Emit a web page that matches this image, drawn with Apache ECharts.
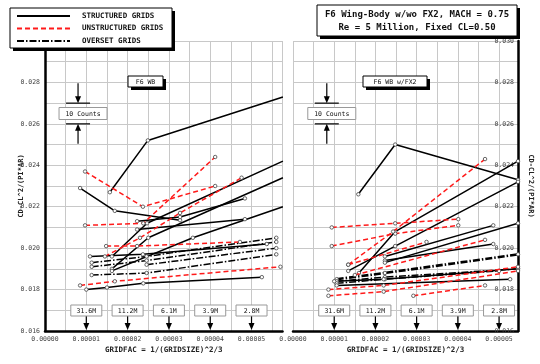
<!DOCTYPE html>
<html>
<head>
<meta charset="utf-8">
<script src="https://cdn.jsdelivr.net/npm/echarts@6/dist/echarts.min.js"></script>
<style>
  html, body { margin: 0; padding: 0; background: #fff; }
  #chart { width: 540px; height: 364px; }
</style>
</head>
<body>
<div id="chart"></div>
<script>
// gridfac (x) vs CD-CL^2/(PI*AR) (y), one polyline per grid
const structuredWB = [
  [[1.57e-5, 0.0227], [2.49e-5, 0.0252], [5.76e-5, 0.0273]],
  [[0.85e-5, 0.0229], [1.69e-5, 0.0218], [3.27e-5, 0.02135]],
  [[1.62e-5, 0.0196], [2.47e-5, 0.0212], [5.76e-5, 0.0242]],
  [[1.62e-5, 0.0190], [2.50e-5, 0.0205], [5.76e-5, 0.0234]],
  [[2.23e-5, 0.0213], [3.27e-5, 0.0215], [4.84e-5, 0.0224]],
  [[2.23e-5, 0.0209], [4.84e-5, 0.0214]],
  [[1.62e-5, 0.0189], [3.58e-5, 0.0205], [5.76e-5, 0.0220]],
  [[1.09e-5, 0.0196], [2.37e-5, 0.0197], [5.37e-5, 0.0202]],
  [[1.00e-5, 0.0180], [1.50e-5, 0.0181], [2.38e-5, 0.0183], [5.25e-5, 0.0186]]
];
const unstructuredWB = [
  [[0.97e-5, 0.0237], [2.37e-5, 0.0220], [4.12e-5, 0.0230]],
  [[0.97e-5, 0.0211], [2.38e-5, 0.0212], [4.12e-5, 0.0244]],
  [[1.48e-5, 0.0201], [2.23e-5, 0.0201], [4.72e-5, 0.0203]],
  [[1.45e-5, 0.0196], [2.30e-5, 0.0205], [3.27e-5, 0.0217], [4.76e-5, 0.0234]],
  [[0.85e-5, 0.0182], [1.69e-5, 0.0184], [5.70e-5, 0.0191]]
];
const oversetWB = [
  [[1.13e-5, 0.0193], [2.46e-5, 0.0196], [5.60e-5, 0.0205]],
  [[1.13e-5, 0.0191], [2.46e-5, 0.0194], [5.60e-5, 0.0203]],
  [[1.13e-5, 0.0187], [2.46e-5, 0.0188], [5.60e-5, 0.0197]],
  [[2.46e-5, 0.0192], [5.60e-5, 0.0200]]
];

const structuredFX2 = [
  [[1.585e-5, 0.0226], [2.48e-5, 0.0250], [5.46e-5, 0.0233]],
  [[1.60e-5, 0.0188], [2.48e-5, 0.0208], [5.46e-5, 0.0242]],
  [[1.34e-5, 0.0189], [2.48e-5, 0.0201], [5.46e-5, 0.0232]],
  [[2.23e-5, 0.0196], [4.86e-5, 0.0211]],
  [[2.23e-5, 0.0194], [4.86e-5, 0.0202]],
  [[2.23e-5, 0.0193], [5.46e-5, 0.0212]],
  [[1.06e-5, 0.0182], [5.27e-5, 0.0185]],
  [[1.00e-5, 0.0184], [2.20e-5, 0.0185], [5.46e-5, 0.0190]]
];
const unstructuredFX2 = [
  [[0.94e-5, 0.0210], [2.48e-5, 0.0212], [4.01e-5, 0.0214]],
  [[0.94e-5, 0.0201], [2.48e-5, 0.0207], [4.01e-5, 0.0211]],
  [[1.34e-5, 0.0192], [2.43e-5, 0.0208], [4.66e-5, 0.0243]],
  [[1.34e-5, 0.0192], [3.24e-5, 0.0203]],
  [[1.50e-5, 0.0187], [4.66e-5, 0.0204]],
  [[2.92e-5, 0.0177], [4.66e-5, 0.0182]],
  [[0.86e-5, 0.0177], [2.20e-5, 0.0179], [5.46e-5, 0.0189]],
  [[0.86e-5, 0.0180], [2.20e-5, 0.0182], [5.46e-5, 0.0191]]
];
const oversetFX2 = [
  [[1.06e-5, 0.0185], [2.23e-5, 0.0188], [5.46e-5, 0.0197]],
  [[1.06e-5, 0.0184], [2.23e-5, 0.0186], [5.46e-5, 0.0190]],
  [[1.06e-5, 0.0183], [2.23e-5, 0.0185], [5.00e-5, 0.0189]]
];

const gridSizeLabels = ['31.6M', '11.2M', '6.1M', '3.9M', '2.8M'];
const gridSizeFac = [1e-5, 2e-5, 3e-5, 4e-5, 5e-5];
const legendNames = ['STRUCTURED GRIDS', 'UNSTRUCTURED GRIDS', 'OVERSET GRIDS'];
const titleLines = ['F6 Wing-Body w/wo FX2, MACH = 0.75', 'Re = 5 Million, Fixed CL=0.50'];
const panelTitles = ['F6 WB', 'F6 WB w/FX2'];
const countsBar = [0.026, 0.027];   // 10 counts bracket
const countsX = [0.8e-5, 0.82e-5];

const MONO = 'DejaVu Sans Mono';
const STYLES = {
  s: { color: '#000', type: 'solid', width: 1.5 },
  u: { color: '#ff1a1a', type: [5, 3], width: 1.5 },
  o: { color: '#000', type: [7, 2, 1.5, 2], width: 1.5 }
};

const chart = echarts.init(document.getElementById('chart'));

function lineSeries(data, gi, kind, width) {
  const ls = Object.assign({}, STYLES[kind]);
  if (width) ls.width = width;
  return {
    type: 'line', xAxisIndex: gi, yAxisIndex: gi, data: data,
    symbol: 'circle', symbolSize: 3.5, animation: false, silent: true,
    lineStyle: ls,
    itemStyle: { color: '#fff', borderColor: '#444', borderWidth: 0.8 },
    z: kind === 'u' ? 4 : 3
  };
}

function xAxisFor(gi, max) {
  return {
    type: 'value', gridIndex: gi, min: 0, max: max, interval: 0.000005,
    axisLine: { show: true, onZero: false, lineStyle: { color: '#000', width: 2.5 } },
    axisTick: { show: false },
    axisLabel: {
      showMaxLabel: false, fontFamily: MONO, fontSize: 6.5, color: '#444', margin: 5,
      formatter: v => (Math.round(v / 0.000005) % 2 ? '' : v.toFixed(5))
    },
    splitLine: { show: true, lineStyle: { color: '#c8c8c8', width: 1 } },
    name: 'GRIDFAC = 1/(GRIDSIZE)^2/3', nameLocation: 'middle', nameGap: 15,
    nameMoveOverlap: false,
    nameTextStyle: { fontFamily: MONO, fontSize: 7.5, fontWeight: 'bold', color: '#222' }
  };
}

function yAxisFor(gi, right) {
  return {
    type: 'value', gridIndex: gi, min: 0.016, max: 0.030, interval: 0.001,
    position: right ? 'right' : 'left',
    axisLine: { show: true, onZero: false, lineStyle: { color: '#000', width: 2.5 } },
    axisTick: { show: false },
    axisLabel: {
      inside: right, showMaxLabel: right, fontFamily: MONO, fontSize: 6.5,
      color: '#444', margin: right ? 4 : 5,
      formatter: v => (Math.round(v * 1000) % 2 ? '' : v.toFixed(3))
    },
    splitLine: { show: true, lineStyle: { color: '#c8c8c8', width: 1 } },
    name: 'CD-CL^2/(PI*AR)', nameLocation: 'middle', nameMoveOverlap: false,
    nameGap: right ? 9 : 20, nameRotate: right ? -90 : 90,
    nameTextStyle: { fontFamily: MONO, fontSize: 7, fontWeight: 'bold', color: '#222' }
  };
}

const series = [];
oversetWB.forEach(d => series.push(lineSeries(d, 0, 'o')));
structuredWB.forEach(d => series.push(lineSeries(d, 0, 's')));
unstructuredWB.forEach(d => series.push(lineSeries(d, 0, 'u')));
oversetFX2.forEach((d, i) => series.push(lineSeries(d, 1, 'o', i === 0 ? 2.6 : 1.5)));
structuredFX2.forEach(d => series.push(lineSeries(d, 1, 's')));
unstructuredFX2.forEach(d => series.push(lineSeries(d, 1, 'u')));

chart.setOption({
  animation: false,
  backgroundColor: '#fff',
  grid: [
    { left: 45, top: 41, width: 237.5, height: 290 },
    { left: 293, top: 41, width: 225, height: 290 }
  ],
  xAxis: [xAxisFor(0, 0.0000575), xAxisFor(1, 0.0000546)],
  yAxis: [yAxisFor(0, false), yAxisFor(1, true)],
  series: series
});

// ---- annotations ----
function px(gi, x, y) { return chart.convertToPixel({ gridIndex: gi }, [x, y]); }

function box(x, y, w, h, text, font, shadow, border) {
  const els = [];
  if (shadow) els.push({ type: 'rect', shape: { x: x + 3, y: y + 3, width: w, height: h }, style: { fill: '#000' }, z: 20 });
  els.push({ type: 'rect', shape: { x: x, y: y, width: w, height: h },
    style: { fill: '#fff', stroke: border || '#000', lineWidth: 1 }, z: 21 });
  if (text) els.push({ type: 'text', x: x + w / 2, y: y + h / 2 + 0.5, z: 22,
    style: { text: text, font: font, fill: '#111', align: 'center', verticalAlign: 'middle' } });
  return els;
}

function arrow(x, yFrom, yTo) {
  const dir = yTo > yFrom ? 1 : -1;
  return [
    { type: 'line', shape: { x1: x, y1: yFrom, x2: x, y2: yTo - dir * 5 }, style: { stroke: '#000', lineWidth: 1.2 }, z: 20 },
    { type: 'polygon', shape: { points: [[x - 3, yTo - dir * 7], [x + 3, yTo - dir * 7], [x, yTo]] }, style: { fill: '#000' }, z: 20 }
  ];
}

const g = [];
// legend
g.push(...box(10, 8, 162, 40, null, null, true));
const legendKinds = ['s', 'u', 'o'];
legendNames.forEach((n, i) => {
  const yy = 16 + i * 12.5;
  const st = STYLES[legendKinds[i]];
  g.push({ type: 'line', shape: { x1: 17, y1: yy, x2: 70, y2: yy },
    style: { stroke: st.color, lineWidth: 1.8, lineDash: st.type === 'solid' ? null : st.type }, z: 22 });
  g.push({ type: 'text', x: 82, y: yy, z: 22,
    style: { text: n, font: 'bold 7.5px ' + MONO, fill: '#111', align: 'left', verticalAlign: 'middle' } });
});
// title box
g.push(...box(317, 5, 200, 31, null, null, true));
titleLines.forEach((t, i) => {
  g.push({ type: 'text', x: 417, y: 14.5 + i * 13.5, z: 22,
    style: { text: t, font: 'bold 9px ' + MONO, fill: '#111', align: 'center', verticalAlign: 'middle' } });
});
// panel title boxes
g.push(...box(128, 76, 35, 11, panelTitles[0], '6.5px ' + MONO, true));
g.push(...box(363, 76, 64, 11, panelTitles[1], '6.5px ' + MONO, true));

[0, 1].forEach(gi => {
  // 10 counts bracket
  const lo = px(gi, countsX[gi], countsBar[0]);
  const hi = px(gi, countsX[gi], countsBar[1]);
  const cx = lo[0];
  g.push({ type: 'line', shape: { x1: cx - 12, y1: hi[1], x2: cx + 12, y2: hi[1] }, style: { stroke: '#000', lineWidth: 1.2 }, z: 20 });
  g.push({ type: 'line', shape: { x1: cx - 12, y1: lo[1], x2: cx + 12, y2: lo[1] }, style: { stroke: '#000', lineWidth: 1.2 }, z: 20 });
  g.push(...arrow(cx, hi[1] - 20, hi[1]));
  g.push(...arrow(cx, lo[1] + 20, lo[1]));
  const mid = (lo[1] + hi[1]) / 2;
  g.push(...box(cx - 19, mid - 6, 48, 12, '10 Counts', '6.5px ' + MONO, false, '#999'));

  // grid size markers
  gridSizeFac.forEach((f, i) => {
    const p = px(gi, f, 0.016);
    g.push(...box(p[0] - 15.5, p[1] - 26, 31, 11, gridSizeLabels[i], '6.5px ' + MONO, false, '#999'));
    g.push(...arrow(p[0], p[1] - 15, p[1] - 1));
  });
});

chart.setOption({ graphic: g });
</script>
</body>
</html>
